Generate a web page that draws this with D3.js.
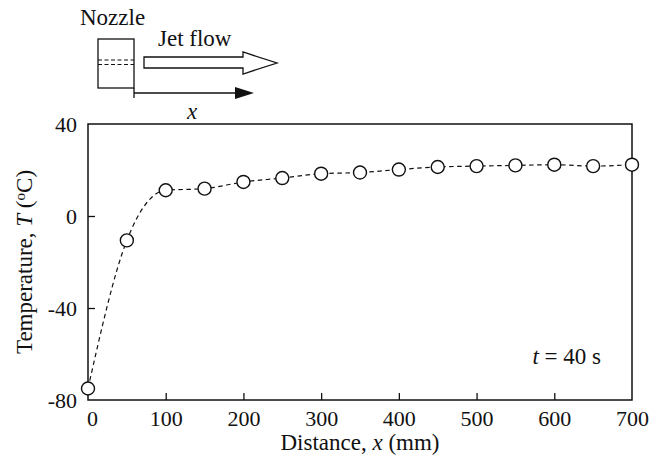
<!DOCTYPE html>
<html>
<head>
<meta charset="utf-8">
<script src="https://cdn.jsdelivr.net/npm/d3@7"></script>
<style>
  body { margin: 0; background: #fff; }
  svg text { font-family: "Liberation Serif", "Times New Roman", serif; fill: #111; }
</style>
</head>
<body>
<div id="chart"></div>
<script>
// measured temperature along the jet (t = 40 s)
const distance = [0, 50, 100, 150, 200, 250, 300, 350, 400, 450, 500, 550, 600, 650, 700];
const temperature = [-75, -10.6, 11.2, 11.9, 14.8, 16.5, 18.4, 18.9, 20.2, 21.3, 21.7, 22.0, 22.3, 21.7, 22.3];
const xTicks = [0, 100, 200, 300, 400, 500, 600, 700];
const yTicks = [-80, -40, 0, 40];

const width = 662,
  height = 458,
  margin = { top: 124, right: 30, bottom: 58, left: 88 },
  radius = 6.5,
  ink = "#111";

const data = distance.map((d, i) => ({ x: d, t: temperature[i] }));

const svg = d3.select("#chart")
  .append("svg")
  .attr("width", width)
  .attr("height", height);

const xScale = d3.scaleLinear()
  .domain([0, 700])
  .range([margin.left, width - margin.right]);

const yScale = d3.scaleLinear()
  .domain([-80, 40])
  .range([height - margin.bottom, margin.top]);

// frame
svg.append("rect")
  .attr("x", margin.left)
  .attr("y", margin.top)
  .attr("width", width - margin.right - margin.left)
  .attr("height", height - margin.bottom - margin.top)
  .attr("fill", "none")
  .attr("stroke", ink)
  .attr("stroke-width", 1.5);

// bottom axis, ticks pointing inward
const xAxis = svg.append("g")
  .attr("transform", `translate(0,${height - margin.bottom})`)
  .call(d3.axisBottom(xScale).tickValues(xTicks).tickSizeInner(-7).tickSizeOuter(0).tickPadding(10).tickFormat(d => String(d)));
xAxis.select(".domain").remove();
xAxis.selectAll("line").attr("stroke", ink).attr("stroke-width", 1.3);
xAxis.selectAll("text").attr("font-size", 22).attr("font-family", "Liberation Serif").attr("fill", ink);
xAxis.selectAll(".tick").filter(d => d === 0 || d === 700).select("line").remove();
xAxis.selectAll(".tick").filter(d => d === 0).select("text").attr("dx", 4);

// left axis
const yAxis = svg.append("g")
  .attr("transform", `translate(${margin.left},0)`)
  .call(d3.axisLeft(yScale).tickValues(yTicks).tickSizeInner(-7).tickSizeOuter(0).tickPadding(11).tickFormat(d => String(d)));
yAxis.select(".domain").remove();
yAxis.selectAll("line").attr("stroke", ink).attr("stroke-width", 1.3);
yAxis.selectAll("text").attr("font-size", 22).attr("font-family", "Liberation Serif").attr("fill", ink);
yAxis.selectAll(".tick").filter(d => d === -80 || d === 40).select("line").remove();

// axis titles
const xTitle = svg.append("text")
  .attr("x", (margin.left + width - margin.right) / 2)
  .attr("y", 450)
  .attr("text-anchor", "middle")
  .attr("font-size", 23);
xTitle.append("tspan").text("Distance, ");
xTitle.append("tspan").attr("font-style", "italic").text("x");
xTitle.append("tspan").text(" (mm)");

const yTitle = svg.append("text")
  .attr("transform", `translate(32,${(margin.top + height - margin.bottom) / 2}) rotate(-90)`)
  .attr("text-anchor", "middle")
  .attr("font-size", 23);
yTitle.append("tspan").text("Temperature, ");
yTitle.append("tspan").attr("font-style", "italic").text("T");
yTitle.append("tspan").text(" (");
yTitle.append("tspan").attr("font-size", 15).attr("dy", -7).text("o");
yTitle.append("tspan").attr("dy", 7).text("C)");

// dashed trend through the measurements
const line = d3.line()
  .x(d => xScale(d.x))
  .y(d => yScale(d.t))
  .curve(d3.curveMonotoneX);

svg.append("path")
  .datum(data)
  .attr("d", line)
  .attr("fill", "none")
  .attr("stroke", ink)
  .attr("stroke-width", 1.2)
  .attr("stroke-dasharray", "4.5,3.5");

svg.selectAll(".dot")
  .data(data)
  .join("circle")
  .attr("class", "dot")
  .attr("cx", d => xScale(d.x))
  .attr("cy", d => yScale(d.t))
  .attr("r", radius)
  .attr("fill", "#fff")
  .attr("stroke", ink)
  .attr("stroke-width", 1.4);

// annotation
const note = svg.append("text")
  .attr("x", 601)
  .attr("y", 364)
  .attr("text-anchor", "end")
  .attr("font-size", 23);
note.append("tspan").attr("font-style", "italic").text("t");
note.append("tspan").text(" = 40 s");

// nozzle sketch above the plot
const sketch = svg.append("g").attr("stroke", ink).attr("fill", "none");

svg.append("text").attr("x", 80).attr("y", 25).attr("font-size", 23).text("Nozzle");
sketch.append("rect").attr("x", 98).attr("y", 39).attr("width", 36).attr("height", 49).attr("stroke-width", 1.3);
[60, 64.5].forEach(y => {
  sketch.append("line").attr("x1", 98).attr("x2", 134).attr("y1", y).attr("y2", y)
    .attr("stroke-width", 1.1).attr("stroke-dasharray", "4,2.5");
});

svg.append("text").attr("x", 158).attr("y", 46).attr("font-size", 23).text("Jet flow");
sketch.append("path")
  .attr("d", "M144,57 L243,57 L243,52 L277,63 L243,74 L243,68 L144,68 Z")
  .attr("stroke-width", 1.3);

sketch.append("line").attr("x1", 134).attr("x2", 134).attr("y1", 88).attr("y2", 98).attr("stroke-width", 1.3);
sketch.append("line").attr("x1", 134).attr("x2", 238).attr("y1", 93).attr("y2", 93).attr("stroke-width", 1.5);
svg.append("path").attr("d", "M235,87 L254,93 L235,99 Z").attr("fill", ink);

svg.append("text").attr("x", 192).attr("y", 119).attr("text-anchor", "middle")
  .attr("font-size", 23).attr("font-style", "italic").text("x");
</script>
</body>
</html>
